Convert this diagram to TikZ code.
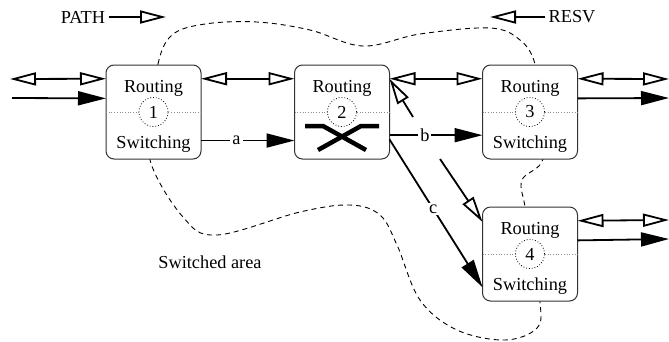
\documentclass[tikz,border=0pt]{standalone}
\usepackage{fontspec}
\setmainfont{Liberation Serif}
\usetikzlibrary{arrows.meta,calc,positioning}

\tikzset{
    otip/.tip={Triangle[open,length=26pt,width=13pt]},
    ftip/.tip={Triangle[length=28pt,width=14pt]},
    router/.style={draw=black!80, fill=white, rounded corners=8pt,
        minimum width=95pt, minimum height=94pt, line width=1pt, outer sep=0pt},
    numc/.style={circle, draw, dotted, line width=0.8pt, fill=white,
        minimum size=29pt, inner sep=0pt},
    split/.style={dotted, black!45, line width=0.7pt},
    both/.style={line width=1.8pt, otip-otip},
    data/.style={line width=1.8pt, -ftip},
    ctrl/.style={line width=1.8pt, -otip},
    area/.style={dash pattern=on 5pt off 4pt, line width=0.9pt},
    lbl/.style={fill=white, inner sep=2pt},
    xbar/.style={line width=4.5pt}
}

\begin{document}
\begin{tikzpicture}[x=1pt, y=-1pt, font=\fontsize{18.3}{21}\selectfont]
\useasboundingbox (0,0) rectangle (669,341);

% switched area
\draw[area] plot[smooth cycle, tension=0.6] coordinates {
    (155,110) (158,64) (172,35) (205,24) (257,22) (310,30) (363,46)
    (420,34) (490,28) (520,40) (535,64) (540,110) (543,159) (522,180)
    (525,207) (532,255) (540,302) (537,328) (505,340) (457,330)
    (420,300) (397,245) (380,215) (350,205) (300,212) (217,235)
    (183,217) (150,160)};

% routers
\node[router] (r1) at (153.5,112) {};
\node[router] (r2) at (342,112) {};
\node[router] (r3) at (530,112) {};
\node[router] (r4) at (530,254) {};
\foreach \n in {1,...,4} {
    \node[numc] (n\n) at (r\n) {\n};
    \draw[split] (r\n.west) -- (n\n.west) (n\n.east) -- (r\n.east);
    \node (rt\n) at ($(r\n)+(0,-24)$) {Routing};
}
\foreach \n in {1,3,4}
    \node (sw\n) at ($(r\n)+(0,32)$) {Switching};

% crossbar in router 2
\draw[xbar] ($(r2)+(-37,14)$) -- ($(r2)+(-19,14)$) -- ($(r2)+(24,38)$);
\draw[xbar] ($(r2)+(37,14)$) -- ($(r2)+(19,14)$) -- ($(r2)+(-24,38)$);

% free ends
\coordinate (inb) at (10,79);
\coordinate (ind) at (12,98);
\coordinate (out3b) at (669,79);
\coordinate (out3d) at (669,98);
\coordinate (out4b) at (669,220);
\coordinate (out4d) at (669,239);
\coordinate (ack2) at (413,117);
\coordinate (ack4) at (440,159);

\draw
    (inb) edge[both] (r1.145)
    (ind) edge[data] (r1.164)
    (r1.35) edge[both] (r2.145)
    (r2.35) edge[both] (r3.145)
    (r3.35) edge[both] (out3b)
    (r3.16) edge[data] (out3d)
    (r4.35) edge[both] (out4b)
    (r4.16) edge[data] (out4d)
    (r1.-31) edge[data] node[lbl, pos=0.38] (la) {a} (r2.211)
    (r2.-26) edge[data] node[lbl, pos=0.38] (lb) {b} (r3.206)
    (r2.-30) edge[data] node[lbl, pos=0.47] (lc) {c} (r4.215)
    (ack2) edge[ctrl] (r2.35)
    (ack4) edge[ctrl] (r4.146);

% legend
\node (path) at (83,17) {PATH};
\coordinate (pathtip) at (166,17);
\draw[ctrl] (path) -- (pathtip);
\node (resv) at (572,17) {RESV};
\coordinate (resvtip) at (490,17);
\draw[ctrl] (resv) -- (resvtip);

\node (swa) at (210,262) {Switched area};
\end{tikzpicture}
\end{document}
